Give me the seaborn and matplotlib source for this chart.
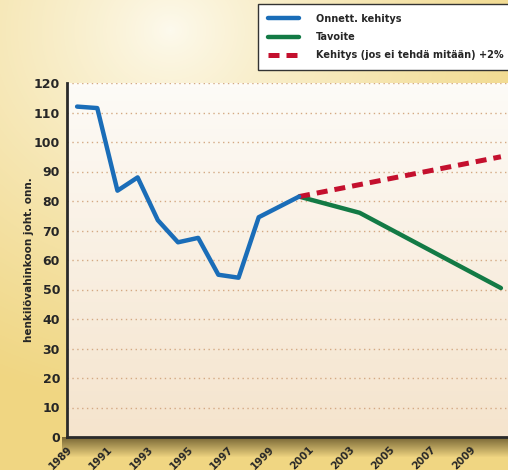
import numpy as np
import pandas as pd
import matplotlib
matplotlib.use("Agg")
import matplotlib.pyplot as plt
import seaborn as sns

# data
years_actual = [1989, 1990, 1991, 1992, 1993, 1994, 1995, 1996, 1997, 1998, 1999, 2000]
values_actual = [112, 111.5, 83.5, 88, 73.5, 66, 67.5, 55, 54, 74.5, 78, 81.5]

years_target = [2000, 2003, 2010]
values_target = [81.5, 76, 50.5]

years_trend = [2000, 2010]
values_trend = [81.5, 95]

label_actual = "Onnett. kehitys"
label_target = "Tavoite"
label_trend = "Kehitys (jos ei tehdä mitään) +2%"
y_label = "henkilövahinkoon joht. onn."
tick_years = list(range(1989, 2010, 2))

sns.set_style("white")
plt.rcParams["font.family"] = ["DejaVu Sans"]
plt.rcParams["font.weight"] = "bold"

W, H = 508, 470
fig = plt.figure(figsize=(W / 100, H / 100), dpi=100)

# -----------------------------
# background (gold gradient + shadow under axis)
# -----------------------------
yy, xx = np.mgrid[0:H, 0:W]
d = np.clip(np.hypot((xx - 170) / 420.0, (yy - 30) / 380.0), 0, 1) ** 0.8
light = np.array([253, 250, 238]) / 255.0
gold = np.array([240, 214, 130]) / 255.0
bg = light[None, None, :] * (1 - d[..., None]) + gold[None, None, :] * d[..., None]
shadow = np.zeros((H, W))
rows = np.arange(H)
sh = np.clip(1 - (rows - 437) / 20.0, 0, 1) * (rows >= 437)
shadow[:, 62:] = sh[:, None] * 0.7
dark = np.array([70, 55, 20]) / 255.0
bg = bg * (1 - shadow[..., None]) + dark[None, None, :] * shadow[..., None]

bg_ax = fig.add_axes([0, 0, 1, 1], zorder=-10)
bg_ax.imshow(bg, extent=[0, W, 0, H], aspect="auto")
bg_ax.axis("off")

# -----------------------------
# main axes
# -----------------------------
ax = fig.add_axes([67 / W, 33 / H, 444 / W, 354 / H])
ax.set_xlim(1989, 2011)
ax.set_ylim(0, 120)

grad = np.linspace(0, 1, 100)[:, None]
top = np.array([253, 251, 247]) / 255.0
bot = np.array([245, 228, 205]) / 255.0
plot_bg = top[None, None, :] * (1 - grad[..., None]) + bot[None, None, :] * grad[..., None]
ax.imshow(plot_bg, extent=[1989, 2011, 0, 120], aspect="auto", zorder=0)

for v in range(10, 121, 10):
    ax.axhline(v, color="#d4a983", lw=1, ls=(0, (1, 2.5)), zorder=1)

df_actual = pd.DataFrame({"year": np.array(years_actual) + 0.5, "value": values_actual})
df_target = pd.DataFrame({"year": np.array(years_target) + 0.5, "value": values_target})
df_trend = pd.DataFrame({"year": np.array(years_trend) + 0.5, "value": values_trend})

sns.lineplot(data=df_target, x="year", y="value", ax=ax, color="#137a45", lw=3.2,
             label=label_target, zorder=3)
sns.lineplot(data=df_trend, x="year", y="value", ax=ax, color="#c4102e", lw=3.6,
             label=label_trend, zorder=3)
ax.lines[-1].set_dashes((2.2, 1.4))
sns.lineplot(data=df_actual, x="year", y="value", ax=ax, color="#1a6db8", lw=3.2,
             label=label_actual, zorder=4)

ax.set_xlabel("")
ax.set_ylabel(y_label, fontsize=7.5, fontweight="bold", labelpad=0)

ax.set_yticks(range(0, 121, 10))
ax.tick_params(axis="y", length=3, color="#d4a983", labelsize=9, pad=2)

# labelled ticks on odd years, plain ticks on every year
ax.set_xticks(tick_years)
ax.set_xticklabels([str(y) for y in tick_years], rotation=45, ha="right",
                   rotation_mode="anchor", fontsize=7.4, fontweight="bold")
ax.set_xticks(range(1990, 2011, 2), minor=True)
ax.tick_params(axis="x", which="both", direction="out", length=5, width=1.5,
               color="#2a2a2a", pad=0)
for lab in ax.get_yticklabels():
    lab.set_fontweight("bold")

for s in ["top", "right"]:
    ax.spines[s].set_visible(False)
ax.spines["left"].set_color("#2a2a2a")
ax.spines["left"].set_linewidth(2)
ax.spines["bottom"].set_color("#2a2a2a")
ax.spines["bottom"].set_linewidth(2)
ax.spines["left"].set_zorder(5)
ax.spines["bottom"].set_zorder(5)

# legend at top right of figure
handles, labels = ax.get_legend_handles_labels()
order = [labels.index(label_actual), labels.index(label_target), labels.index(label_trend)]
ax.legend_.remove()
leg = fig.legend([handles[i] for i in order], [labels[i] for i in order],
                 loc="upper left", bbox_to_anchor=(258 / W, 1 - 4 / H),
                 prop={"weight": "bold", "size": 7.0}, frameon=True,
                 fancybox=False, handlelength=3.2, handletextpad=1.8,
                 labelspacing=0.85, borderpad=1.0, borderaxespad=0)
leg.get_frame().set_edgecolor("#333333")
leg.get_frame().set_linewidth(1)
leg.get_frame().set_facecolor("white")
leg.get_frame().set_alpha(1)

fig.savefig("out.png", dpi=100)
